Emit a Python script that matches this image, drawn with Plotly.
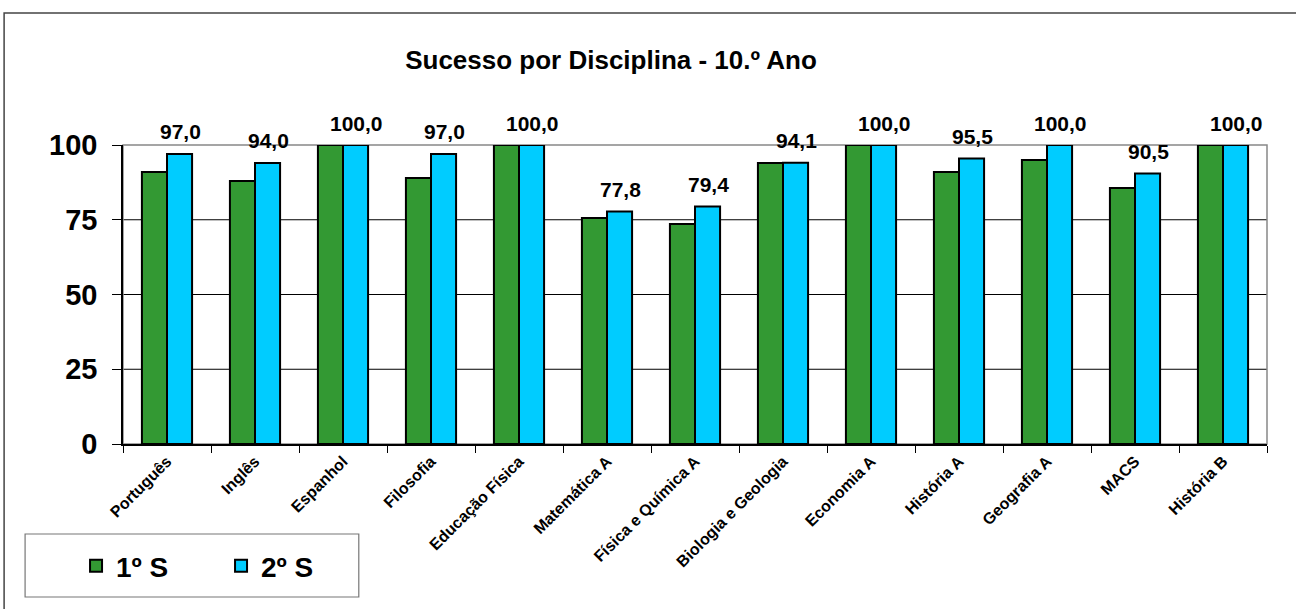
import plotly.graph_objects as go

categories = ["Português", "Inglês", "Espanhol", "Filosofia", "Educação Física",
              "Matemática A", "Física e Química A", "Biologia e Geologia",
              "Economia A", "História A", "Geografia A", "MACS", "História B"]
s1 = [91.0, 88.0, 100.0, 89.0, 100.0, 75.6, 73.6, 94.0, 100.0, 91.0, 95.0, 85.6, 100.0]
s2 = [97.0, 94.0, 100.0, 97.0, 100.0, 77.8, 79.4, 94.1, 100.0, 95.5, 100.0, 90.5, 100.0]
series_names = ["1º S", "2º S"]
y_ticks = [0, 25, 50, 75, 100]

FONT = "Liberation Sans, Arial, sans-serif"
GREEN = "#339933"
CYAN = "#00CCFF"

fig = go.Figure()
fig.add_trace(go.Bar(x=categories, y=s1, name=series_names[0],
                     marker=dict(color=GREEN, line=dict(color="black", width=2))))
fig.add_trace(go.Bar(x=categories, y=s2, name=series_names[1],
                     marker=dict(color=CYAN, line=dict(color="black", width=2))))

annotations = []
for c, v in zip(categories, s2):
    annotations.append(dict(x=c, y=v, xref="x", yref="y", text=f"{v:.1f}".replace(".", ","),
                            showarrow=False, xshift=13, yshift=22, yanchor="middle",
                            font=dict(family=FONT, size=21, color="black", weight="bold")))

W0, H0 = 1145, 299
def px(x): return (x - 123) / W0
def py(y): return (444 - y) / H0

shapes = [
    dict(type="rect", xref="paper", yref="paper", x0=px(4), x1=px(1302), y0=py(620), y1=py(13),
         line=dict(color="#444444", width=1.5), layer="below"),
    dict(type="rect", xref="paper", yref="paper", x0=px(25), x1=px(359), y0=py(597), y1=py(534),
         line=dict(color="#777777", width=1.2), fillcolor="white", layer="below"),
]
for v in y_ticks:
    if 0 < v < 100:
        shapes.append(dict(type="line", xref="paper", yref="y", x0=0, x1=1, y0=v, y1=v,
                           line=dict(color="black", width=1), layer="below"))
shapes.append(dict(type="rect", xref="paper", yref="paper", x0=0, x1=1, y0=0, y1=1,
                   line=dict(color="#888888", width=1.5), layer="below"))

fig.update_layout(
    width=1296, height=609,
    margin=dict(l=123, r=29, t=145, b=165),
    paper_bgcolor="white", plot_bgcolor="white",
    barmode="group", bargap=0.43, bargroupgap=0,
    title=dict(text="Sucesso por Disciplina - 10.º Ano", x=611 / 1296, xref="container",
               xanchor="center", y=1 - 60 / 609, yref="container", yanchor="middle",
               font=dict(family=FONT, size=26, color="black", weight="bold")),
    xaxis=dict(type="category", showline=True, linecolor="black", linewidth=1.5,
               ticks="outside", tickson="boundaries", ticklen=7, tickcolor="black",
               tickangle=-45, showgrid=False,
               tickfont=dict(family=FONT, size=16, color="black", weight="bold")),
    yaxis=dict(range=[0, 100], tickvals=y_ticks, showline=True, linecolor="black", linewidth=1.5,
               ticks="outside", ticklen=9, tickcolor="black", showgrid=False,
               zeroline=False, ticklabelstandoff=9,
               tickfont=dict(family=FONT, size=29, color="black", weight="bold")),
    legend=dict(orientation="h", x=px(76), xanchor="left", y=py(566), yanchor="middle",
                bgcolor="rgba(0,0,0,0)", entrywidth=100, entrywidthmode="pixels",
                font=dict(family=FONT, size=28, color="black", weight="bold")),
    annotations=annotations,
    shapes=shapes,
)
fig.update_traces(cliponaxis=False)

fig.write_html("out.html", config={"displayModeBar": False},
               post_script="document.body.style.margin='0';")
